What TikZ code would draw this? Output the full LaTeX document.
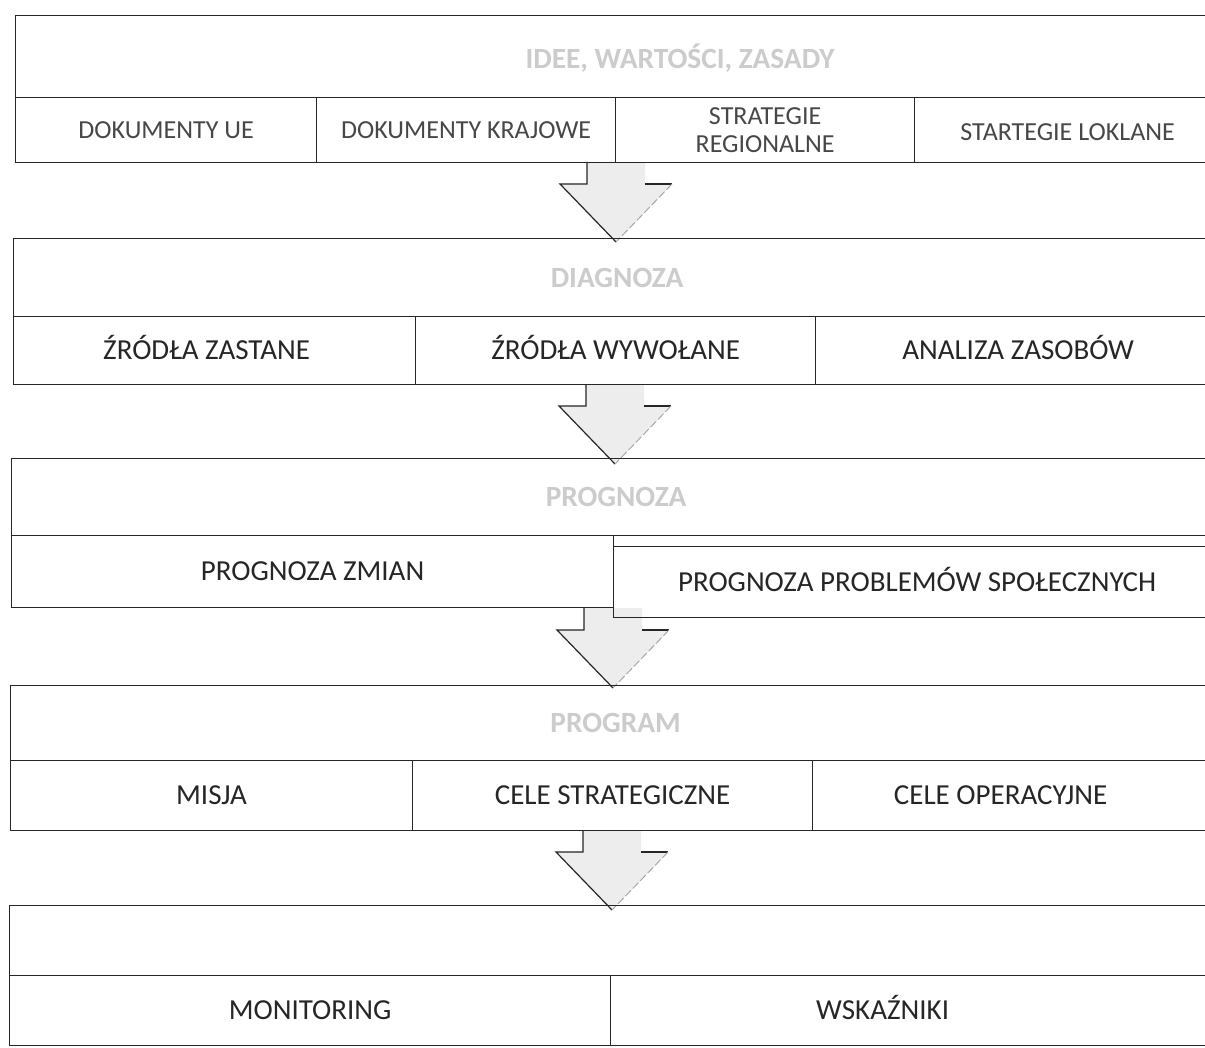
\documentclass[tikz,border=0pt]{standalone}
\usepackage{fontspec}
\setmainfont{Carlito}
\usetikzlibrary{calc}
\begin{document}
\begin{tikzpicture}[x=0.75pt,y=-0.75pt,
  box/.style={draw=black!85, line width=0.9pt, rectangle, inner sep=0pt, anchor=north west},
  celltext/.style={text=black!85, font=\fontsize{21.75pt}{26pt}\selectfont, inner sep=0pt, text height=14pt, text depth=0pt},
  toptext/.style={text=black!72, font=\fontsize{19.5pt}{20.5pt}\selectfont, inner sep=0pt, text height=12.6pt, text depth=0pt},
  toptwo/.style={text=black!72, font=\fontsize{19.5pt}{20.5pt}\selectfont, align=center, inner sep=0pt},
  headtext/.style={text=black!20, font=\bfseries\fontsize{22pt}{26pt}\selectfont, inner sep=0pt, text height=14.2pt, text depth=0pt},
  arrowfill/.style={fill=black!7, draw=none},
  arrowline/.style={draw=black!85, line width=0.9pt, line join=miter},
  arrowfaint/.style={draw=black!35, line width=0.7pt, dash pattern=on 6pt off 2pt}]
\clip (0,0) rectangle (1205,1048);
\fill[white] (0,0) rectangle (1205,1048);
% cell helper: name, x1, y1, x2, y2
\newcommand\mycell[5]{\node[box, minimum width={(#4-#2)*0.75pt}, minimum height={(#5-#3)*0.75pt}] (#1) at (#2,#3) {};}
% block arrow helper: centre x, top y
\newcommand\myarrow[2]{%
  \fill[arrowfill] (#1-29,#2) -- (#1-29,#2+22) -- (#1-56,#2+22) -- (#1,#2+80) -- (#1+56,#2+22) -- (#1+29,#2+22) -- (#1+29,#2) -- cycle;
  \draw[arrowline] (#1-29,#2) -- (#1-29,#2+22) -- (#1-56,#2+22) -- (#1,#2+80);
  \draw[arrowline] (#1+29,#2+22) -- (#1+56,#2+22);
  \draw[arrowfaint] (#1+56,#2+22) -- (#1,#2+80);}

% ---------- section 1
\myarrow{616}{162}
\mycell{h1}{15}{15}{1220}{97}
\mycell{c11}{15}{97}{316}{162}
\mycell{c12}{316}{97}{615}{162}
\mycell{c13}{615}{97}{914}{162}
\mycell{c14}{914}{97}{1220}{162}
\node[headtext] (t1) at ($(h1.center)+(62,2)$) {IDEE, WARTOŚCI, ZASADY};
\node[toptext] (t11) at (c11.center) {DOKUMENTY UE};
\node[toptext] (t12) at (c12.center) {DOKUMENTY KRAJOWE};
\node[toptwo] (t13) at (c13.center) {STRATEGIE\\REGIONALNE};
\node[toptext] (t14) at ($(c14.center)+(0,2)$) {STARTEGIE LOKLANE};

% ---------- section 2
\myarrow{615}{384}
\mycell{h2}{13}{238}{1220}{316}
\mycell{c21}{13}{316}{415}{384}
\mycell{c22}{415}{316}{815}{384}
\mycell{c23}{815}{316}{1220}{384}
\node[headtext] (t2) at ($(h2.center)+(0,0)$) {DIAGNOZA};
\node[celltext] (t21) at ($(c21.center)+(-8,0)$) {ŹRÓDŁA ZASTANE};
\node[celltext] (t22) at (c22.center) {ŹRÓDŁA WYWOŁANE};
\node[celltext] (t23) at (c23.center) {ANALIZA ZASOBÓW};

% ---------- section 3
\myarrow{613}{608}
\mycell{h3}{11}{458}{1220}{535}
\mycell{c31}{11}{535}{613}{607}
\mycell{c32}{613}{546}{1220}{617}
\node[headtext] (t3) at ($(h3.center)+(0,0)$) {PROGNOZA};
\node[celltext] (t31) at (c31.center) {PROGNOZA ZMIAN};
\node[celltext] (t32) at (c32.center) {PROGNOZA PROBLEMÓW SPOŁECZNYCH};

% ---------- section 4
\myarrow{612}{830}
\mycell{h4}{10}{685}{1220}{760}
\mycell{c41}{10}{760}{412}{830}
\mycell{c42}{412}{760}{812}{830}
\mycell{c43}{812}{760}{1220}{830}
\node[headtext] (t4) at ($(h4.center)+(0,0)$) {PROGRAM};
\node[celltext] (t41) at (c41.center) {MISJA};
\node[celltext] (t42) at (c42.center) {CELE STRATEGICZNE};
\node[celltext] (t43) at ($(c43.center)+(-16,0)$) {CELE OPERACYJNE};

% ---------- section 5
\mycell{h5}{9}{905}{1220}{975}
\mycell{c51}{9}{975}{610}{1045}
\mycell{c52}{610}{975}{1220}{1045}
\node[celltext] (t51) at (c51.center) {MONITORING};
\node[celltext] (t52) at ($(c52.center)+(-33,0)$) {WSKAŹNIKI};
\end{tikzpicture}
\end{document}
